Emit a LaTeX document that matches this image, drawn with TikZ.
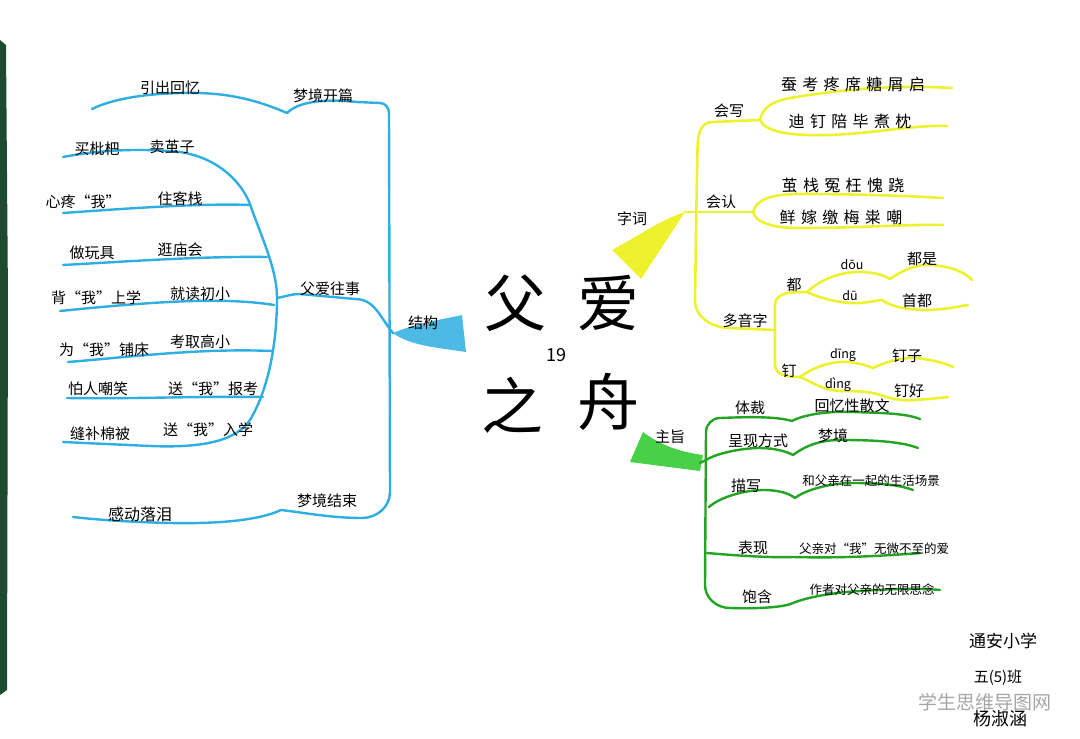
\documentclass[tikz,border=0pt]{standalone}
\usepackage{fontspec}
\setmainfont{Noto Sans CJK SC}
\usetikzlibrary{calc}
\definecolor{cblue}{HTML}{2EAEE2}
\definecolor{cyel}{HTML}{EEF22E}
\definecolor{cgreen}{HTML}{23A423}
\definecolor{cgfill}{HTML}{48D048}
\definecolor{cover}{HTML}{1E4A30}
\tikzset{
  bl/.style={draw=cblue, line width=2.4pt, line cap=round, line join=round},
  yl/.style={draw=cyel, line width=2.6pt, line cap=round, line join=round},
  gl/.style={draw=cgreen, line width=2.4pt, line cap=round, line join=round},
  lbl/.style={inner sep=0pt, text=black, font=\fontsize{15}{15}\selectfont},
  sml/.style={inner sep=0pt, text=black, font=\fontsize{12.5}{13}\selectfont},
  big/.style={inner sep=0pt, text=black, font=\fontsize{62}{62}\selectfont},
}
\begin{document}
\begin{tikzpicture}[x=1pt,y=-1pt]
\path[use as bounding box, fill=white] (0,0) rectangle (1080,739);
% notebook cover edge
\fill[cover] (0,40) -- (6,45) -- (8,300) -- (7,690) -- (0,695) -- cycle;

% ================= BLUE : 结构 =================
\coordinate (kpV) at (287,113);
\coordinate (kpE) at (380,103);
\coordinate (jgTip) at (393,333);
\coordinate (fwJ) at (277,298);
\coordinate (jsE) at (362,518);
\coordinate (jsV) at (281,510);
\coordinate (sp1) at (63,157);
\coordinate (sp7) at (63,442);

% main vertical
\draw[bl] (kpV) .. controls (300,100) and (330,99) .. (357,102) -- (kpE)
  to[out=0,in=90] (389,113) -- (390,492) to[out=-90,in=0] (jsE);
% 梦境结束 -> 感动落泪
\draw[bl] (jsE) .. controls (330,518) and (300,512) .. (jsV)
  .. controls (260,520) and (220,524) .. (170,523) .. controls (130,522) and (100,520) .. (73,517);
% 引出回忆
\draw[bl] (kpV) .. controls (250,97) and (220,92) .. (180,93) .. controls (140,94) and (110,100) .. (92,109);
% 父爱往事
\draw[bl] (fwJ) to[out=10,in=180] (300,294) -- (355,299) to[out=0,in=130] (jgTip);
% spine
\draw[bl] (sp1) .. controls (100,150) and (140,148) .. (180,152)
  .. controls (220,158) and (245,185) .. (252,210)
  .. controls (265,245) and (277,272) .. (fwJ)
  .. controls (277,345) and (268,390) .. (250,420)
  .. controls (235,442) and (200,448) .. (150,446) -- (sp7);
% leaves
\draw[bl] (63,213) .. controls (120,209) and (200,203) .. (250,205);
\draw[bl] (63,265) .. controls (120,262) and (200,256) .. (267,257);
\draw[bl] (60,311) .. controls (140,303) and (220,296) .. (274,305);
\draw[bl] (68,362) .. controls (130,357) and (200,348) .. (272,351);
\draw[bl] (67,398) .. controls (140,399) and (200,396) .. (263,397);
% triangle 结构
\fill[cblue, opacity=0.85] (jgTip) .. controls (420,322) and (440,320) .. (462,315)
  -- (466,352) .. controls (440,348) and (410,346) .. cycle;

\node[lbl] (tYC) at (170,88) {引出回忆};
\node[lbl] (tKP) at (323,96) {梦境开篇};
\node[lbl] (tA1) at (97,149) {买枇杷};
\node[lbl] (tA2) at (172,147) {卖茧子};
\node[lbl] (tB1) at (83,202) {心疼“我”};
\node[lbl] (tB2) at (180,199) {住客栈};
\node[lbl] (tC1) at (92,253) {做玩具};
\node[lbl] (tC2) at (180,250) {逛庙会};
\node[lbl] (tD1) at (96,298) {背“我”上学};
\node[lbl] (tD2) at (200,294) {就读初小};
\node[lbl] (tE1) at (104,350) {为“我”铺床};
\node[lbl] (tE2) at (200,342) {考取高小};
\node[lbl] (tF1) at (98,389) {怕人嘲笑};
\node[lbl] (tF2) at (213,389) {送“我”报考};
\node[lbl] (tG1) at (100,434) {缝补棉被};
\node[lbl] (tG2) at (208,430) {送“我”入学};
\node[lbl] (tFW) at (330,289) {父爱往事};
\node[lbl] (tJG) at (423,323) {结构};
\node[lbl] (tJS) at (327,501) {梦境结束};
\node[lbl, font=\fontsize{16}{16}\selectfont] (tGD) at (140,514) {感动落泪};

% ================= CENTER =================
\node[big] (c1) at (515,303) {父};
\node[big] (c2) at (608,303) {爱};
\node[big] (c3) at (512,405) {之};
\node[big] (c4) at (608,402) {舟};
\node[inner sep=0pt, font=\fontsize{18}{18}\selectfont] (num) at (556,355) {19};

% ================= YELLOW : 字词 =================
\coordinate (zcE) at (685,212);
\coordinate (hxJ) at (760,120);
\coordinate (hrJ) at (753,212);
\coordinate (dyJ) at (775,330);
\coordinate (duJ) at (807,292);
\coordinate (diJ) at (800,377);
\fill[cyel] (612,250) .. controls (640,235) and (660,220) .. (zcE) -- (641,279) -- cycle;
\draw[yl] (zcE) -- (hrJ);
\draw[yl] (hxJ) -- (713,122) to[out=180,in=85] (697,170) -- (695,300) to[out=-90,in=180] (730,328) -- (dyJ);
% 会写
\draw[yl] (hxJ) .. controls (763,108) and (770,102) .. (790,98) .. controls (850,88) and (900,85) .. (952,88);
\draw[yl] (hxJ) .. controls (765,132) and (790,136) .. (830,135) .. controls (880,133) and (910,125) .. (947,126);
% 会认
\draw[yl] (hrJ) .. controls (756,200) and (770,194) .. (800,194) .. controls (860,194) and (910,196) .. (943,198);
\draw[yl] (hrJ) .. controls (756,222) and (770,228) .. (800,228) .. controls (860,228) and (910,224) .. (943,225);
% 多音字
\draw[yl] (dyJ) -- (775,305) to[out=90,in=180] (duJ);
\draw[yl] (dyJ) -- (775,365) to[out=-90,in=180] (diJ);
\draw[yl] (duJ) .. controls (820,280) and (840,271) .. (863,272) .. controls (878,273) and (885,276) .. (890,279)
  .. controls (900,272) and (915,264) .. (930,265) .. controls (950,266) and (965,272) .. (972,280);
\draw[yl] (duJ) .. controls (820,298) and (840,304) .. (860,303) .. controls (872,302) and (878,300) .. (882,300)
  .. controls (890,306) and (905,310) .. (930,310) .. controls (950,309) and (960,306) .. (968,305);
\draw[yl] (diJ) .. controls (812,368) and (830,361) .. (847,362) .. controls (860,363) and (868,366) .. (873,368)
  .. controls (885,362) and (900,358) .. (913,358) .. controls (930,359) and (945,363) .. (953,367);
\draw[yl] (diJ) .. controls (812,382) and (822,390) .. (840,391) .. controls (860,391) and (872,392) .. (880,395)
  .. controls (895,400) and (905,401) .. (915,400) .. controls (930,399) and (940,398) .. (948,397);

\node[lbl] (tZC) at (632,219) {字词};
\node[lbl] (tHX) at (729,111) {会写};
\node[lbl, font=\fontsize{16}{16}\selectfont] (tHXa) at (853,84) {蚕\,\,考\,\,疼\,\,席\,\,糖\,\,屑\,\,启};
\node[lbl, font=\fontsize{16}{16}\selectfont] (tHXb) at (850,121) {迪\,\,钉\,\,陪\,\,毕\,\,煮\,\,枕};
\node[lbl] (tHR) at (721,202) {会认};
\node[lbl, font=\fontsize{16}{16}\selectfont] (tHRa) at (843,186) {茧\,\,栈\,\,冤\,\,枉\,\,愧\,\,跷};
\node[lbl, font=\fontsize{16}{16}\selectfont] (tHRb) at (841,217) {鲜\,\,嫁\,\,缴\,\,梅\,\,粜\,\,嘲};
\node[lbl] (tDY) at (745,321) {多音字};
\node[lbl] (tDU) at (794,285) {都};
\node[lbl] (tDI) at (789,371) {钉};
\node[sml] (p1) at (852,265) {dōu};
\node[sml] (p2) at (850,296) {dū};
\node[sml] (p3) at (843,355) {dīng};
\node[sml] (p4) at (838,385) {dìng};
\node[lbl] (w1) at (922,259) {都是};
\node[lbl] (w2) at (917,301) {首都};
\node[lbl] (w3) at (907,356) {钉子};
\node[lbl] (w4) at (909,391) {钉好};

% ================= GREEN : 主旨 =================
\coordinate (gTop) at (720,418);
\coordinate (gJ) at (706,460);
\coordinate (gBot) at (730,608);
\fill[cgfill] (643,432) -- (630,462) -- (700,471) -- (703,455) .. controls (680,452) and (660,445) .. cycle;
\draw[gl] (700,463) -- (gJ);
\draw[gl] (gTop) to[out=180,in=90] (706,432) -- (705,585) to[out=-90,in=180] (gBot);
% 体裁
\draw[gl] (gTop) .. controls (745,417) and (775,416) .. (792,421) .. controls (805,414) and (830,411) .. (853,412) .. controls (880,413) and (905,413) .. (920,419);
% 呈现方式
\draw[gl] (gJ) .. controls (715,454) and (740,448) .. (760,448) .. controls (775,448) and (788,452) .. (793,455)
  .. controls (805,446) and (820,440) .. (840,440) .. controls (870,440) and (900,441) .. (918,448);
% 描写
\draw[gl] (709,507) .. controls (720,497) and (745,490) .. (763,490) .. controls (780,490) and (790,494) .. (795,498)
  .. controls (805,490) and (830,483) .. (853,483) .. controls (880,483) and (900,485) .. (913,490);
% 表现
\draw[gl] (707,553) .. controls (730,555) and (770,558) .. (793,557) .. controls (830,558) and (870,557) .. (920,553);
% 饱含
\draw[gl] (gBot) .. controls (760,609) and (785,607) .. (793,603) .. controls (810,596) and (840,592) .. (860,591)
  .. controls (890,589) and (920,588) .. (940,590);

\node[lbl] (tZZ) at (670,437) {主旨};
\node[lbl] (tTC) at (750,408) {体裁};
\node[lbl] (tTCb) at (852,406) {回忆性散文};
\node[lbl] (tCX) at (758,441) {呈现方式};
\node[lbl] (tCXb) at (833,436) {梦境};
\node[lbl] (tMX) at (746,486) {描写};
\node[sml] (tMXb) at (871,481) {和父亲在一起的生活场景};
\node[lbl] (tBX) at (753,548) {表现};
\node[sml] (tBXb) at (874,549) {父亲对“我”无微不至的爱};
\node[lbl] (tBH) at (757,597) {饱含};
\node[sml] (tBHb) at (872,590) {作者对父亲的无限思念};

% ================= signature =================
\node[lbl, font=\fontsize{17}{17}\selectfont] (s1) at (1003,641) {通安小学};
\node[lbl, font=\fontsize{15}{15}\selectfont] (s2) at (998,678) {五(5)班};
\node[inner sep=0pt, text=black!35, font=\fontsize{19}{19}\selectfont] (wm) at (985,702) {学生思维导图网};
\node[lbl, font=\fontsize{18}{18}\selectfont] (s3) at (1000,719) {杨淑涵};
\end{tikzpicture}
\end{document}
